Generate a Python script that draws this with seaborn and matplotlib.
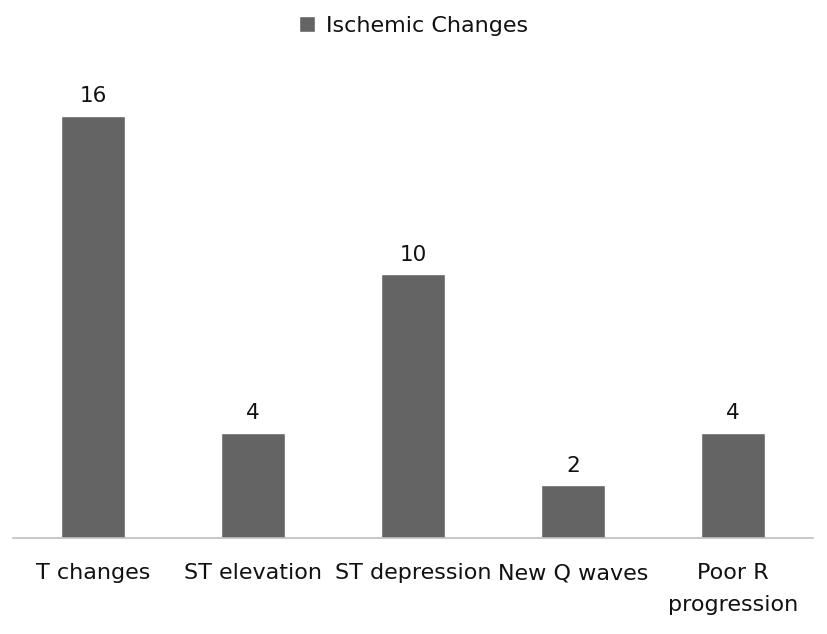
import matplotlib
matplotlib.use("Agg")
import matplotlib.pyplot as plt
import pandas as pd
import seaborn as sns

# values
categories = ["T changes", "ST elevation", "ST depression", "New Q waves", "Poor R\nprogression"]
counts = [16, 4, 10, 2, 4]
series_name = "Ischemic Changes"

df = pd.DataFrame({"category": categories, "count": counts, "series": series_name})

sns.set_theme(style="white")
plt.rcParams["font.family"] = ["DejaVu Sans"]

fig = plt.figure(figsize=(8.27, 6.34), dpi=100)
ax = fig.add_axes([13 / 827, 1 - 538 / 634, 800 / 827, 0.7488])

sns.barplot(
    data=df, x="category", y="count", hue="series",
    palette=["#646464"], width=0.4, saturation=1, ax=ax,
)
for container in ax.containers:
    ax.bar_label(container, fmt="%d", padding=7, fontsize=15.5, color="#111111")

ax.set_ylim(0, 18)
ax.set_xlim(-0.5, len(categories) - 0.5)
ax.set_xlabel("")
ax.set_ylabel("")
ax.set_yticks([])
ax.tick_params(axis="x", labelsize=16, pad=18, length=0, colors="#111111")
for lbl in ax.get_xticklabels():
    lbl.set_linespacing(1.75)
    lbl.set_verticalalignment("top")
for side in ["top", "right", "left"]:
    ax.spines[side].set_visible(False)
ax.spines["bottom"].set_color("#bfbfbf")
ax.spines["bottom"].set_linewidth(1.2)

handles, labels = ax.get_legend_handles_labels()
ax.legend_.remove()
leg = fig.legend(
    handles, labels, loc="center", bbox_to_anchor=(0.5, 1 - 26 / 634),
    frameon=False, fontsize=16, handlelength=0.75, handleheight=0.75,
    handletextpad=0.5,
)
for t in leg.get_texts():
    t.set_color("#111111")

fig.savefig("out.png", dpi=100)
